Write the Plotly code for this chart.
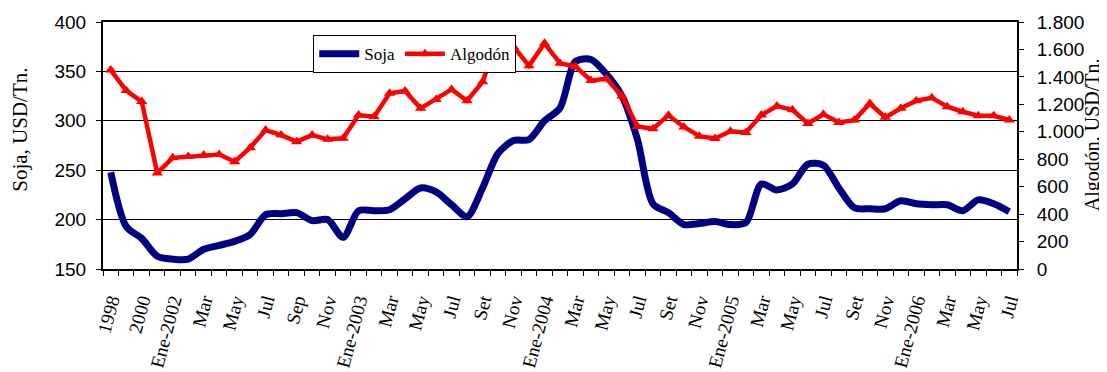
import plotly.graph_objects as go

# categorias del eje x (anuales hasta 2001, luego mensuales)
etiquetas = [
    "1998", "1999", "2000", "2001",
    "Ene-2002", "Feb", "Mar", "Abr", "May", "Jun", "Jul", "Ago", "Sep", "Oct", "Nov", "Dic",
    "Ene-2003", "Feb", "Mar", "Abr", "May", "Jun", "Jul", "Ago", "Set", "Oct", "Nov", "Dic",
    "Ene-2004", "Feb", "Mar", "Abr", "May", "Jun", "Jul", "Ago", "Set", "Oct", "Nov", "Dic",
    "Ene-2005", "Feb", "Mar", "Abr", "May", "Jun", "Jul", "Ago", "Set", "Oct", "Nov", "Dic",
    "Ene-2006", "Feb", "Mar", "Abr", "May", "Jun", "Jul",
]

# Soja, USD/Tn. (eje izquierdo)
soja = [
    248, 193, 181, 163,
    160, 160, 170, 174, 178, 185, 205, 206, 207, 199, 200, 182,
    209, 209, 210, 221, 232, 228, 215, 203, 232, 267, 280, 281,
    300, 313, 360, 362, 347, 325, 281, 216, 207, 195, 196, 198,
    195, 197, 236, 230, 236, 256, 255, 232, 212, 211, 211, 219,
    216, 215, 215, 209, 220, 216, 208,
]

# Algodon, USD/Tn. (eje derecho)
algodon = [
    1450, 1300, 1220, 700,
    810, 820, 830, 835, 782, 884, 1013, 976, 928, 976, 945, 952,
    1122, 1110, 1280, 1297, 1171, 1236, 1309, 1226, 1364, 1670, 1620, 1482,
    1645, 1500, 1476, 1374, 1386, 1260, 1038, 1022, 1120, 1035, 968, 951,
    1004, 995, 1122, 1187, 1160, 1061, 1127, 1068, 1085, 1206, 1105, 1171,
    1226, 1248, 1183, 1146, 1117, 1117, 1086,
]

x = list(range(len(etiquetas)))
serif = "Liberation Serif, Times New Roman, serif"
sans = "Liberation Sans, Arial, sans-serif"

fig = go.Figure()
fig.add_trace(go.Scatter(
    x=x, y=soja, name="Soja", mode="lines",
    line=dict(color="#000080", width=7, shape="spline", smoothing=0.8),
))
fig.add_trace(go.Scatter(
    x=x, y=algodon, name="Algodón", yaxis="y2", mode="lines+markers",
    line=dict(color="#FF0000", width=4.5),
    marker=dict(symbol="triangle-up", size=10, color="#FF0000"),
))

# the page body keeps its default 8px margin, so the figure is 8px smaller
fig.update_layout(
    width=1099, height=364,
    margin=dict(l=95, r=90, t=14, b=103),
    paper_bgcolor="white", plot_bgcolor="white",
    separators=",.",
    showlegend=True,
    legend=dict(
        orientation="h", x=0.23, y=0.947, xanchor="left", yanchor="top",
        itemwidth=40,
        bgcolor="white", bordercolor="black", borderwidth=1,
        font=dict(family=serif, size=17, color="black"),
    ),
    xaxis=dict(
        range=[-0.5, len(x) - 0.5], automargin=False,
        tickmode="array", tickvals=x[::2], ticktext=etiquetas[::2],
        tickangle=-75, ticks="", ticklabelstandoff=11,
        tickfont=dict(family=serif, size=19, color="black"),
        showline=True, linecolor="black", linewidth=2, mirror=True,
        showgrid=False, zeroline=False,
        minor=dict(tickvals=[i - 0.5 for i in range(len(x) + 1)],
                   ticks="outside", ticklen=5, tickcolor="black", showgrid=False),
    ),
    yaxis=dict(
        range=[150, 400], dtick=50, automargin=False,
        ticks="outside", ticklen=5, tickcolor="black", ticklabelstandoff=6,
        tickfont=dict(family=sans, size=19, color="black"),
        showline=True, linecolor="black", linewidth=2,
        showgrid=True, gridcolor="black", gridwidth=1, zeroline=False,
    ),
    yaxis2=dict(
        overlaying="y", side="right", automargin=False,
        range=[0, 1800], dtick=200, tickformat=",d",
        ticks="outside", ticklen=5, tickcolor="black", ticklabelstandoff=9,
        tickfont=dict(family=sans, size=19, color="black"),
        showline=True, linecolor="black", linewidth=2,
        showgrid=False, zeroline=False,
    ),
    annotations=[
        dict(text="Soja, USD/Tn.", textangle=-90, xref="paper", yref="paper",
             x=-0.091, y=0.563, xanchor="center", yanchor="middle", showarrow=False,
             font=dict(family=serif, size=21, color="black")),
        dict(text="Algodón, USD/Tn.", textangle=-90, xref="paper", yref="paper",
             x=1.0835, y=0.543, xanchor="center", yanchor="middle", showarrow=False,
             font=dict(family=serif, size=20, color="black")),
    ],
)

fig.write_html("out.html")
